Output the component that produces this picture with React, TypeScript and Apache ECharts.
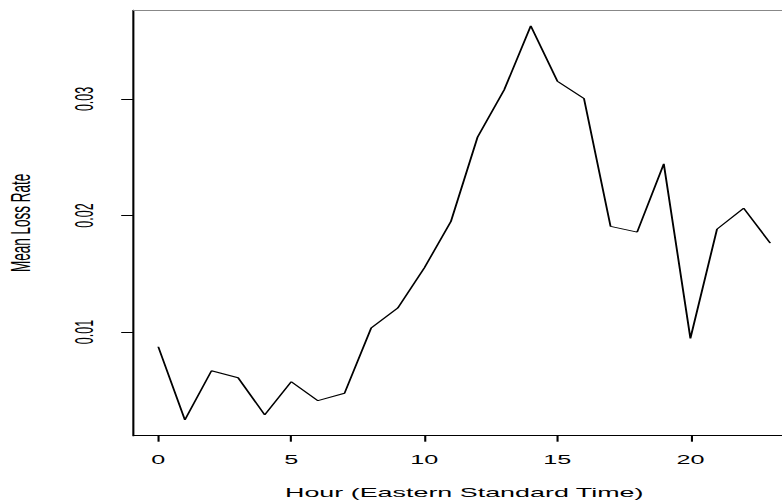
import React, { useEffect, useRef } from "react";
import * as echarts from "echarts";

// Data
const hours: number[] = [0, 1, 2, 3, 4, 5, 6, 7, 8, 9, 10, 11, 12, 13, 14, 15, 16, 17, 18, 19, 20, 21, 22, 23];
const meanLossRate: number[] = [
  0.00874, 0.00246, 0.00668, 0.00608, 0.00289, 0.00574, 0.00411, 0.00475,
  0.01034, 0.01206, 0.0155, 0.0195, 0.02672, 0.03077, 0.03626, 0.03152,
  0.03003, 0.01906, 0.01858, 0.02443, 0.00946, 0.01883, 0.02063, 0.01763,
];
const xTickValues: number[] = [0, 5, 10, 15, 20];
const yTickValues: number[] = [0.01, 0.02, 0.03];
const xTitle = "Hour (Eastern Standard Time)";
const yTitle = "Mean Loss Rate";

// The reference is an R plot stretched horizontally
const STRETCH = 2.1;
const FONT = "'Liberation Sans', Arial, Helvetica, sans-serif";

function rRange(vals: number[]): [number, number] {
  const lo = Math.min(...vals);
  const hi = Math.max(...vals);
  const ext = (hi - lo) * 0.04;
  return [lo - ext, hi + ext];
}

export default function App() {
  const ref = useRef<HTMLDivElement>(null);

  useEffect(() => {
    if (!ref.current) return;
    const chart = echarts.init(ref.current, undefined, { renderer: "svg" });
    const [xMin, xMax] = rRange(hours);
    const [yMin, yMax] = rRange(meanLossRate);
    const S = STRETCH;
    chart.setOption({
      animation: false,
      backgroundColor: "#ffffff",
      grid: {
        left: 133.8 / S,
        right: (800 - 794.6) / S,
        top: 10.2,
        bottom: 64.3,
        containLabel: false,
        outerBoundsMode: "none",
      },
      xAxis: [
        {
          type: "value",
          min: xMin,
          max: xMax,
          name: xTitle,
          nameLocation: "middle",
          nameGap: 50,
          nameTextStyle: { fontFamily: FONT, fontSize: 12.8, color: "#000" },
          axisLine: { show: true, onZero: false, lineStyle: { color: "#000", width: 1 } },
          axisTick: { show: true, length: 6, customValues: xTickValues, lineStyle: { color: "#000", width: 1 } },
          axisLabel: {
            show: true,
            customValues: xTickValues,
            margin: 18,
            fontFamily: FONT,
            fontSize: 12,
            color: "#000",
            formatter: (v: number) => String(v),
          },
          splitLine: { show: false },
        },
        {
          type: "value",
          position: "top",
          min: xMin,
          max: xMax,
          axisLine: { show: true, onZero: false, lineStyle: { color: "#888", width: 1 } },
          axisTick: { show: false },
          axisLabel: { show: false },
          splitLine: { show: false },
        },
      ],
      yAxis: {
        type: "value",
        min: yMin,
        max: yMax,
        name: yTitle,
        nameLocation: "middle",
        nameRotate: 90,
        nameGap: 47,
        nameTextStyle: { fontFamily: FONT, fontSize: 13.5, color: "#000" },
        axisLine: { show: true, onZero: false, lineStyle: { color: "#000", width: 1 } },
        axisTick: { show: true, length: 6, customValues: yTickValues, lineStyle: { color: "#000", width: 1 } },
        axisLabel: {
          show: true,
          customValues: yTickValues,
          rotate: 90,
          margin: 17.5,
          fontFamily: FONT,
          fontSize: 12.5,
          color: "#000",
          formatter: (v: number) => v.toFixed(2),
        },
        splitLine: { show: false },
      },
      series: [
        {
          type: "line",
          xAxisIndex: 0,
          data: hours.map((h, i) => [h, meanLossRate[i]]),
          showSymbol: false,
          symbol: "none",
          silent: true,
          lineStyle: { color: "#000", width: 0.9 },
        },
      ],
    });
    return () => chart.dispose();
  }, []);

  return (
    <div
      style={{
        position: "fixed",
        left: 0,
        top: 0,
        width: 782,
        height: 500,
        overflow: "hidden",
        background: "#fff",
      }}
    >
      <div
        ref={ref}
        style={{
          width: 800 / STRETCH,
          height: 500,
          transform: `scaleX(${STRETCH})`,
          transformOrigin: "0 0",
        }}
      />
    </div>
  );
}
